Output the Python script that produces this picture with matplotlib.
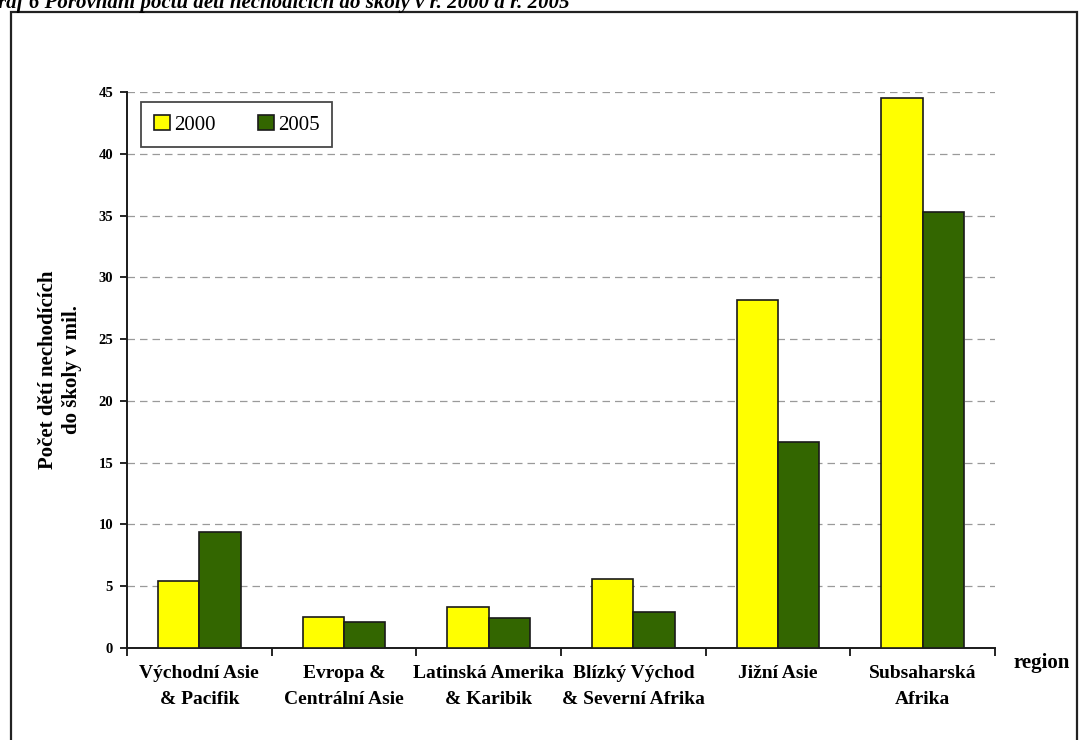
import matplotlib
matplotlib.use("Agg")
import matplotlib.pyplot as plt
import numpy as np
from matplotlib.patches import Rectangle

categories = ["Východní Asie\n& Pacifik", "Evropa &\nCentrální Asie", "Latinská Amerika\n& Karibik",
              "Blízký Východ\n& Severní Afrika", "Jižní Asie", "Subsaharská\nAfrika"]
values_2000 = [5.4, 2.5, 3.3, 5.6, 28.2, 44.5]
values_2005 = [9.4, 2.1, 2.4, 2.9, 16.7, 35.3]
series_names = ["2000", "2005"]
yticks = [0, 5, 10, 15, 20, 25, 30, 35, 40, 45]

plt.rcParams['font.family'] = ['Liberation Serif', 'DejaVu Serif']

fig = plt.figure(figsize=(10.79, 7.40), dpi=100)
ax = fig.add_axes([127/1079, 1-648/740, (995-127)/1079, (648-92)/740])

# outer frame
fig.patches.append(Rectangle((11/1079, -0.05), (1077-11)/1079, 1.05 - 12/740,
                             transform=fig.transFigure, fill=False, edgecolor='#222222', lw=1.6))
fig.text(-0.002, 1 - 8/740, "raf 6 Porovnání počtu dětí nechodících do školy v r. 2000 a r. 2005",
         fontsize=15, fontweight='bold', fontstyle='italic', va='baseline', ha='left')

x = np.arange(len(categories))
w = 0.285
ax.bar(x - w/2, values_2000, w, color='#FFFF00', edgecolor='#1a1a1a', lw=1.2, label=series_names[0], zorder=3)
ax.bar(x + w/2, values_2005, w, color='#336600', edgecolor='#1a1a1a', lw=1.2, label=series_names[1], zorder=3)

ax.set_xlim(-0.5, len(categories) - 0.5)
ax.set_ylim(0, 45)
ax.set_yticks(yticks)
ax.set_yticklabels([str(v) for v in yticks], fontsize=10.5, fontweight='bold')
for v in yticks[1:]:
    ax.axhline(v, color='#9a9a9a', lw=0.9, ls=(0, (6, 4)), zorder=1)

ax.set_xticks(np.arange(len(categories) + 1) - 0.5, minor=False)
ax.set_xticklabels([])
ax.set_xticks(x, minor=True)
ax.set_xticklabels(categories, minor=True, fontsize=14, fontweight='bold', linespacing=1.75)
ax.tick_params(axis='x', which='minor', length=0, pad=12)
ax.tick_params(axis='x', which='major', length=6, direction='out', width=1.2)
ax.tick_params(axis='y', length=5, direction='out', width=1.2, pad=5)

for s in ['top', 'right']:
    ax.spines[s].set_visible(False)
for s in ['left', 'bottom']:
    ax.spines[s].set_linewidth(1.4)
    ax.spines[s].set_color('#1a1a1a')

fig.text(60/1079, 1 - 370/740, "Počet dětí nechodících\ndo školy v mil.", rotation=90,
         ha='center', va='center', fontsize=15, fontweight='bold', linespacing=1.2)
fig.text(1042/1079, 1 - 663/740, "region", ha='center', va='center', fontsize=15, fontweight='bold')

leg = ax.legend(loc='upper left', bbox_to_anchor=(14/868, 1 - 10/556), ncol=2, frameon=True,
                fancybox=False, edgecolor='#1a1a1a', fontsize=15, handlelength=0.8, handleheight=0.8,
                columnspacing=2.0, handletextpad=0.2, borderpad=0.6, borderaxespad=0)
leg.get_frame().set_linewidth(1.3)

fig.savefig("out.png", dpi=100)
